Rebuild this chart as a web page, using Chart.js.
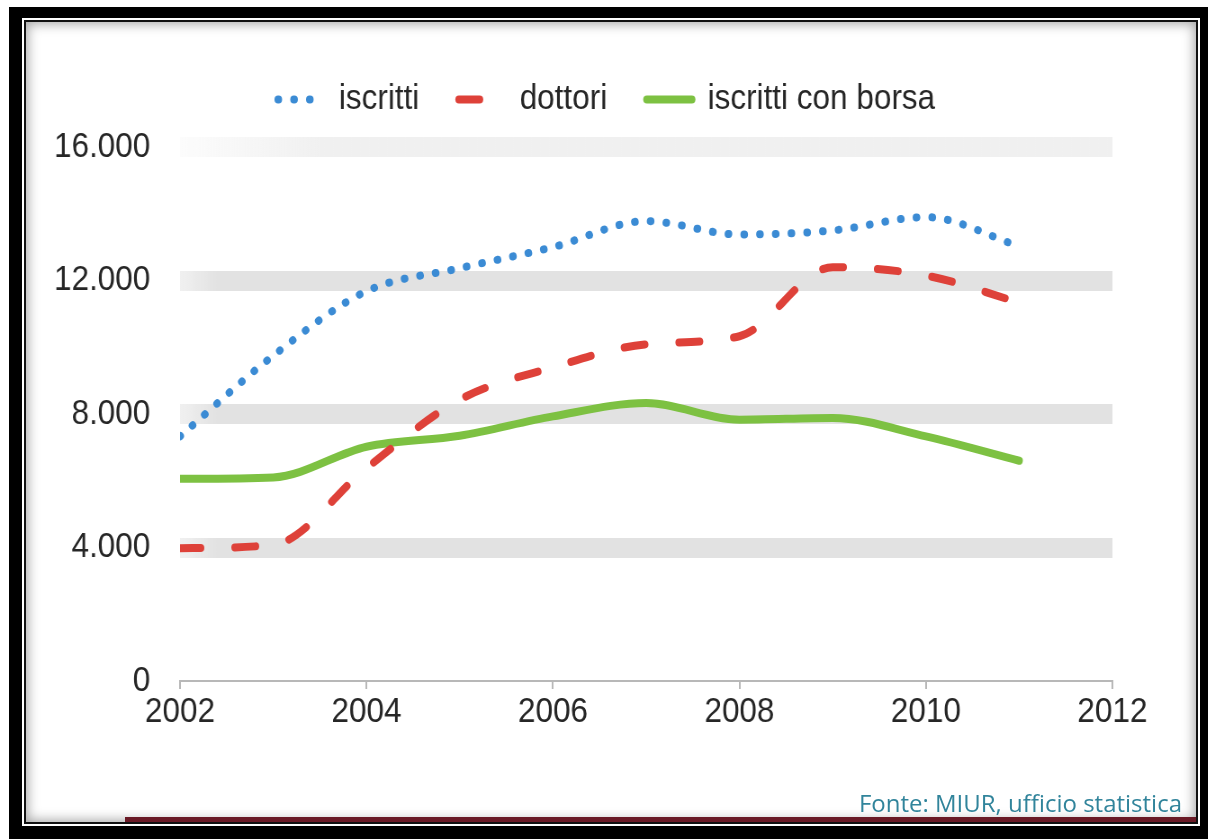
<!DOCTYPE html>
<html lang="it">
<head>
<meta charset="utf-8">
<title>Dottorato di ricerca 2002-2011</title>
<script src="https://cdn.jsdelivr.net/npm/chart.js@4.4.1/dist/chart.umd.min.js"></script>
<style>
  html, body { margin: 0; padding: 0; background: #fff; }
  body { width: 1208px; height: 839px; position: relative; overflow: hidden; }
  /* cornice nera con bordo interno e ombra */
  .cornice { position: absolute; left: 9px; top: 7px; width: 1199px; height: 832px; background: #000; }
  .foglio {
    position: absolute; left: 22px; top: 18px; width: 1178px; height: 808px; background: #fff;
    box-shadow: inset 0 0 0 2px #fff, inset 0 0 0 4px #111, inset 0 0 12px 6px rgba(0, 0, 0, 0.35);
  }
  .riga { position: absolute; left: 125px; top: 817px; width: 1071px; height: 5px; background: #6a1a26; }
  /* il testo del grafico è un po' stretto: il canvas viene compresso in orizzontale */
  .grafico { position: absolute; left: 0; top: 0; width: 1342px; height: 839px; transform: scaleX(0.9); transform-origin: 0 0; }
  .fonte { position: absolute; right: 26px; top: 786px; font-family: "Open Sans", sans-serif; font-size: 24px; color: #31849b; white-space: nowrap; }
</style>
</head>
<body>
<div class="cornice"></div>
<div class="foglio"></div>
<div class="riga"></div>
<div class="grafico"><canvas id="dottorato"></canvas></div>
<div class="fonte">Fonte: MIUR, ufficio statistica</div>

<script>
// dati MIUR, dottorato di ricerca
const anni = [2002, 2003, 2004, 2005, 2006, 2007, 2008, 2009, 2010, 2011];
const iscritti = [7330, 9750, 11680, 12370, 13000, 13780, 13380, 13500, 13900, 13030];
const dottori = [3980, 4080, 6380, 8430, 9400, 10090, 10330, 12400, 12150, 11340];
const iscrittiConBorsa = [6060, 6100, 7020, 7350, 7930, 8330, 7830, 7880, 7330, 6600];

const serie = ['iscritti', 'dottori', 'iscritti con borsa'];
const xTicks = [2002, 2004, 2006, 2008, 2010, 2012];
const xTickLabels = ['2002', '2004', '2006', '2008', '2010', '2012'];
const yTicks = [0, 4000, 8000, 12000, 16000];
const yTickLabels = ['0', '4.000', '8.000', '12.000', '16.000'];

function punti(valori) {
    return anni.map(function (a, i) { return { x: a, y: valori[i] }; });
}

// fasce grigie al posto delle linee di griglia, sfumate a sinistra
function fascia(ctx) {
    const area = ctx.chart.chartArea;
    if (!area || !ctx.tick || ctx.tick.value === 0) return 'rgba(0,0,0,0)';
    const ultima = ctx.index === yTicks.length - 1;
    const a = ultima ? 0.5 : 1;
    const g = ctx.chart.ctx.createLinearGradient(area.left, 0, area.right, 0);
    g.addColorStop(0, 'rgba(226,226,226,' + (ultima ? 0.1 : 0.5) + ')');
    g.addColorStop(ultima ? 0.15 : 0.04, 'rgba(226,226,226,' + a + ')');
    g.addColorStop(1, 'rgba(226,226,226,' + a + ')');
    return g;
}

// la legenda resta centrata sul grafico e non sulla colonna delle etichette
const spostaLegenda = {
    id: 'spostaLegenda',
    afterLayout: function (chart, args, opts) {
        if (!chart.legend) return;
        chart.legend.left += opts.dx;
        chart.legend.right += opts.dx;
    }
};

Chart.defaults.font.family = '"Liberation Sans", Arial, sans-serif';
Chart.defaults.font.size = 35;
Chart.defaults.color = '#262626';

const ctx = document.getElementById('dottorato').getContext('2d');

new Chart(ctx, {
    type: 'line',
    data: {
        datasets: [{
            label: serie[0],
            data: punti(iscritti),
            borderColor: '#3b8bd4',
            backgroundColor: '#3b8bd4',
            borderWidth: 8,
            borderDash: [0.5, 17],
            borderCapStyle: 'round'
        }, {
            label: serie[1],
            data: punti(dottori),
            borderColor: '#de4139',
            backgroundColor: '#de4139',
            borderWidth: 8,
            borderDash: [23, 38],
            borderCapStyle: 'round'
        }, {
            label: serie[2],
            data: punti(iscrittiConBorsa),
            borderColor: '#7dc142',
            backgroundColor: '#7dc142',
            borderWidth: 8,
            borderCapStyle: 'round'
        }]
    },
    plugins: [spostaLegenda],
    options: {
        responsive: true,
        maintainAspectRatio: false,
        animation: false,
        layout: {
            padding: { top: 38, left: 40, right: 106, bottom: 104 }
        },
        elements: {
            line: { tension: 0.4, cubicInterpolationMode: 'monotone', fill: false },
            point: { radius: 0, hoverRadius: 0 }
        },
        scales: {
            x: {
                type: 'linear',
                position: 'bottom',
                min: 2002,
                max: 2012,
                afterBuildTicks: function (scale) {
                    scale.ticks = xTicks.map(function (v) { return { value: v }; });
                },
                ticks: {
                    padding: 2,
                    callback: function (value) { return xTickLabels[xTicks.indexOf(value)]; }
                },
                grid: {
                    drawOnChartArea: false,
                    drawTicks: true,
                    tickLength: 8,
                    color: '#b8b8b8',
                    lineWidth: 2
                },
                border: { display: true, color: '#b8b8b8', width: 2 }
            },
            y: {
                min: 0,
                max: 16600,
                afterBuildTicks: function (scale) {
                    scale.ticks = yTicks.map(function (v) { return { value: v }; });
                },
                afterFit: function (scale) {
                    scale.width = 160;
                },
                ticks: {
                    padding: 33,
                    callback: function (value) { return yTickLabels[yTicks.indexOf(value)]; }
                },
                grid: {
                    drawTicks: false,
                    lineWidth: 20,
                    color: fascia
                },
                border: { display: false }
            }
        },
        plugins: {
            tooltip: { enabled: false },
            spostaLegenda: { dx: 36 },
            legend: {
                position: 'top',
                labels: {
                    usePointStyle: true,
                    pointStyleWidth: 50,
                    padding: 44,
                    generateLabels: function (chart) {
                        const items = Chart.defaults.plugins.legend.labels.generateLabels(chart);
                        items.forEach(function (item) {
                            const ds = chart.data.datasets[item.datasetIndex];
                            item.pointStyle = 'line';
                            item.lineDash = ds.borderDash || [];
                            item.lineDashOffset = 0;
                            item.lineCap = ds.borderCapStyle;
                            item.lineWidth = ds.borderWidth;
                            item.strokeStyle = ds.borderColor;
                        });
                        return items;
                    }
                }
            }
        }
    }
});
</script>
</body>
</html>
